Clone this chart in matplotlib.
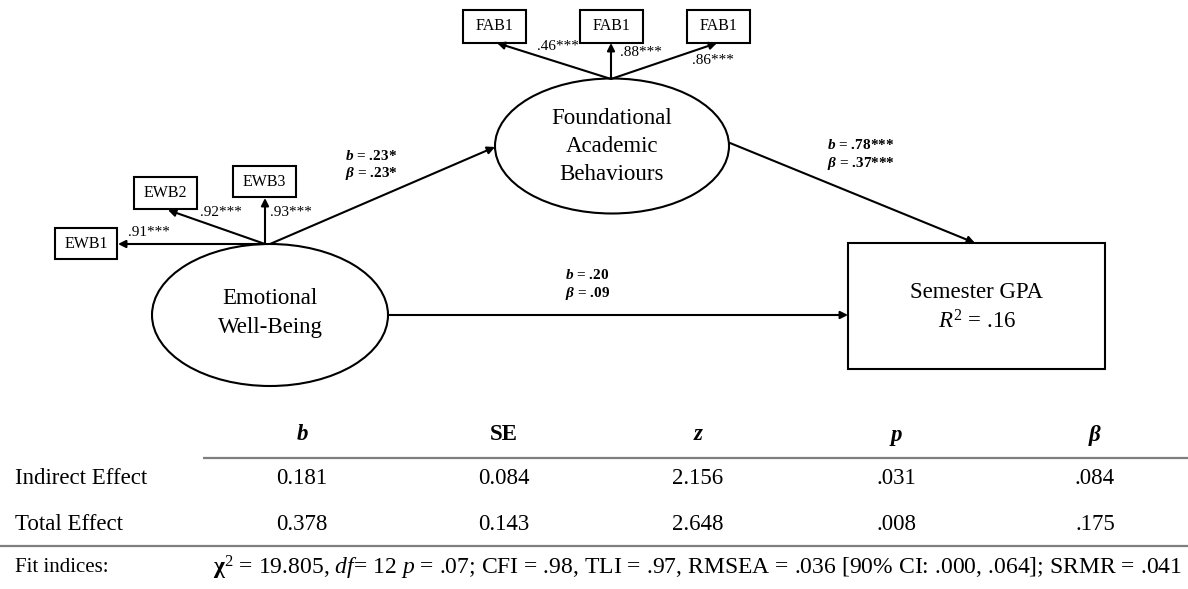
import matplotlib
matplotlib.use("Agg")
import matplotlib.pyplot as plt
from matplotlib.patches import Ellipse, Rectangle

plt.rcParams['font.family'] = ['Liberation Serif', 'DejaVu Serif']
plt.rcParams['mathtext.fontset'] = 'custom'
plt.rcParams['mathtext.rm'] = 'Liberation Serif'
plt.rcParams['mathtext.it'] = 'Liberation Serif:italic'
plt.rcParams['mathtext.bf'] = 'Liberation Serif:bold'
plt.rcParams['mathtext.bfit'] = 'Liberation Serif:bold:italic'

# data
fab_items = ['FAB1', 'FAB1', 'FAB1']
fab_loadings = ['.46***', '.88***', '.86***']
ewb_items = ['EWB1', 'EWB2', 'EWB3']
ewb_loadings = ['.91***', '.92***', '.93***']
path_b = ['.23*', '.78***', '.20']        # EWB->FAB, FAB->GPA, EWB->GPA
path_beta = ['.23*', '.37***', '.09']
r_squared = '.16'

table_cols = ['b', 'SE', 'z', 'p', 'β']
row_names = ['Indirect Effect', 'Total Effect']
indirect_vals = ['0.181', '0.084', '2.156', '.031', '.084']
total_vals = ['0.378', '0.143', '2.648', '.008', '.175']
fit_text = (r"$\mathbf{χ}^2$ = 19.805, $\mathit{df}$= 12 $\mathit{p}$ = .07; CFI = .98, "
            r"TLI = .97, RMSEA = .036 [90% CI: .000, .064]; SRMR = .041")

W, H = 1188, 589
fig = plt.figure(figsize=(W / 100, H / 100), dpi=100)
ax = fig.add_axes([0, 0, 1, 1])
ax.set_xlim(0, W)
ax.set_ylim(H, 0)
ax.axis('off')

LW = 1.5


def arrow(p0, p1):
    ax.annotate('', xy=p1, xytext=p0,
                arrowprops=dict(arrowstyle='-|>', lw=LW, color='black',
                                mutation_scale=11, shrinkA=0, shrinkB=0))


def box(x0, y0, x1, y1, txt, fs=11.5):
    ax.add_patch(Rectangle((x0, y0), x1 - x0, y1 - y0, fill=False, lw=LW, ec='black'))
    ax.text((x0 + x1) / 2, (y0 + y1) / 2, txt, ha='center', va='center', fontsize=fs)


def path_label(x, y, b, beta):
    ax.text(x, y, r'$\mathbfit{b}$ = ' + b, ha='left', va='center',
            fontsize=11, fontweight='bold')
    ax.text(x, y + 18, r'$\mathbfit{β}$ = ' + beta, ha='left', va='center',
            fontsize=11, fontweight='bold')


# latent variables
ax.add_patch(Ellipse((612, 146), 234, 135, fill=False, lw=LW, ec='black'))
for txt, y in zip(['Foundational', 'Academic', 'Behaviours'], [118, 147, 175]):
    ax.text(612, y, txt, ha='center', va='center', fontsize=16.5)

ax.add_patch(Ellipse((270, 315), 236, 142, fill=False, lw=LW, ec='black'))
ax.text(270, 298, 'Emotional', ha='center', va='center', fontsize=16.5)
ax.text(270, 327, 'Well-Being', ha='center', va='center', fontsize=16.5)

# outcome
ax.add_patch(Rectangle((848, 243), 257, 126, fill=False, lw=LW, ec='black'))
ax.text(977, 293, 'Semester GPA', ha='center', va='center', fontsize=16.5)
ax.text(977, 322, r'$\mathit{R}^{\mathit{2}}$ = ' + r_squared, ha='center', va='center', fontsize=16.5)

# FAB indicators
fab_boxes = [(463, 526), (580, 643), (687, 750)]
fab_ends = [(497, 43), (611, 43), (717, 43)]
fab_lab_pos = [(537, 47), (620, 52), (692, 60)]
for (x0, x1), end, lp, name, ld in zip(fab_boxes, fab_ends, fab_lab_pos, fab_items, fab_loadings):
    box(x0, 10, x1, 43, name)
    arrow((611, 79), end)
    ax.text(lp[0], lp[1], ld, ha='left', va='center', fontsize=11)

# EWB indicators
ewb_boxes = [(55, 228, 117, 259), (134, 177, 197, 209), (233, 166, 296, 197)]
ewb_ends = [(118, 244), (168, 210), (265, 198)]
ewb_lab_pos = [(128, 232), (200, 212), (270, 212)]
for bx, end, lp, name, ld in zip(ewb_boxes, ewb_ends, ewb_lab_pos, ewb_items, ewb_loadings):
    box(*bx, name)
    arrow((265, 244), end)
    ax.text(lp[0], lp[1], ld, ha='left', va='center', fontsize=11)

# structural paths
arrow((270, 244), (495, 147))
arrow((730, 143), (975, 243))
arrow((388, 315), (848, 315))
path_label(345, 156, path_b[0], path_beta[0])
path_label(827, 145, path_b[1], path_beta[1])
path_label(565, 275, path_b[2], path_beta[2])

# table
col_x = [302, 504, 698, 896, 1095]
for x, c in zip(col_x, table_cols):
    style = 'normal' if c == 'SE' else 'italic'
    ax.text(x, 435, c, ha='center', va='center', fontsize=16.5,
            fontweight='bold', style=style)
ax.plot([203, W], [458, 458], color='#7f7f7f', lw=1.6, solid_capstyle='butt')
for y, name, vals in zip([478, 524], row_names, [indirect_vals, total_vals]):
    ax.text(15, y, name, ha='left', va='center', fontsize=16.5)
    for x, v in zip(col_x, vals):
        ax.text(x, y, v, ha='center', va='center', fontsize=16.5)
ax.plot([0, W], [546, 546], color='#7f7f7f', lw=1.6, solid_capstyle='butt')
ax.text(15, 568, 'Fit indices:', ha='left', va='center', fontsize=15)
ax.text(213, 568, fit_text, ha='left', va='center', fontsize=17)

fig.savefig('out.png', dpi=100)
